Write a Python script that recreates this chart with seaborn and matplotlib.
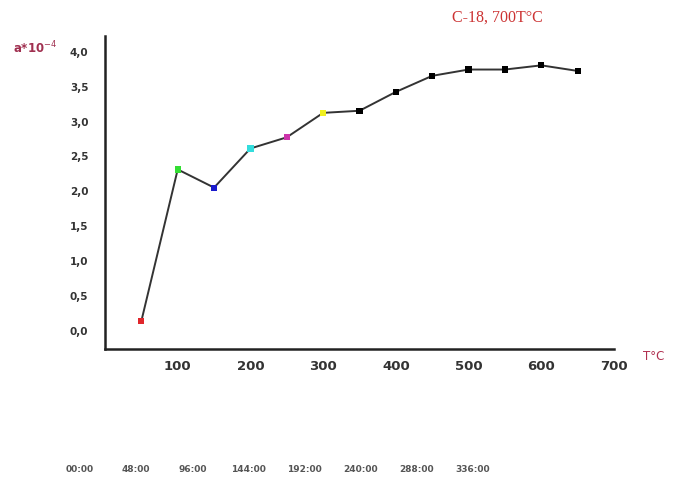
import matplotlib
matplotlib.use("Agg")
import matplotlib.pyplot as plt
import seaborn as sns
import pandas as pd
from matplotlib.ticker import MultipleLocator, FuncFormatter

# ---- data ----
temperature = [50, 100, 150, 200, 250, 300, 350, 400, 450, 500, 550, 600, 650]
a_values = [0.13, 2.30, 2.04, 2.60, 2.76, 3.11, 3.14, 3.41, 3.64, 3.73, 3.73, 3.79, 3.71]
point_colors = ["#e0262b", "#33dd33", "#1a1acc", "#33dddd", "#cc33aa", "#f0f020",
                "#000000", "#000000", "#000000", "#000000", "#000000", "#000000", "#000000"]
time_ticks = [0, 48, 96, 144, 192, 240, 288, 336]
time_labels = ["00:00", "48:00", "96:00", "144:00", "192:00", "240:00", "288:00", "336:00"]
x_major = [100, 200, 300, 400, 500, 600, 700]

sns.set_style("white")
plt.rcParams["font.family"] = ["DejaVu Sans"]

df = pd.DataFrame({"T": temperature, "a": a_values, "c": [str(i) for i in range(len(temperature))]})

fig = plt.figure(figsize=(6.73, 4.81), dpi=100)
W, H = 673, 481
ax = fig.add_axes([105 / W, 1 - 350 / H, (614 - 105) / W, (350 - 37) / H])

sns.lineplot(data=df, x="T", y="a", ax=ax, color="#333333", linewidth=1.4, zorder=2)
sns.scatterplot(data=df, x="T", y="a", hue="c", palette=point_colors, marker="s",
                s=20, edgecolor="none", linewidth=0, legend=False, ax=ax, zorder=3)

ax.set_xlim(0, 700)
ax.set_ylim(-0.27, 4.21)
ax.set_xlabel("")
ax.set_ylabel("")
for s in ["top", "right"]:
    ax.spines[s].set_visible(False)
for s in ["left", "bottom"]:
    ax.spines[s].set_linewidth(1.8)
    ax.spines[s].set_color("#222222")

ax.set_xticks(x_major)
ax.xaxis.set_minor_locator(MultipleLocator(50))
ax.yaxis.set_minor_locator(MultipleLocator(0.25))
ax.set_yticks([0, 0.5, 1.0, 1.5, 2.0, 2.5, 3.0, 3.5, 4.0])
ax.yaxis.set_major_formatter(FuncFormatter(lambda v, p: f"{v:.1f}".replace(".", ",")))
ax.tick_params(axis="x", which="major", direction="inout", length=7, width=1.3,
               labelsize=9.5, pad=4, colors="#222222")
ax.tick_params(axis="x", which="minor", direction="inout", length=3, width=1.3, colors="#222222")
ax.tick_params(axis="y", which="major", direction="out", length=5, width=1.3,
               labelsize=7.5, pad=7, colors="#222222")
ax.tick_params(axis="y", which="minor", direction="inout", length=3, width=1.3, colors="#222222")
for lab in ax.get_xticklabels() + ax.get_yticklabels():
    lab.set_fontweight("bold")
    lab.set_color("#333333")

fig.text(497 / W, 1 - 18 / H, "C-18, 700T°C", family="Liberation Serif", fontsize=11.5,
         color="#cc3333", ha="center", va="center")
fig.text(13 / W, 1 - 48 / H, r"a*10$^{-4}$", fontsize=8.5, color="#a03050",
         ha="left", va="center", fontweight="bold")
fig.text(643 / W, 1 - 356 / H, "T°C", fontsize=8.5, color="#b03050",
         ha="left", va="center")

# secondary time axis (labels only)
ax2 = fig.add_axes([80 / W, 1 - 462 / H, (473 - 80) / W, 0.001])
ax2.set_xlim(0, 336)
ax2.set_xticks(time_ticks)
ax2.set_xticklabels(time_labels)
ax2.set_yticks([])
for s in ax2.spines.values():
    s.set_visible(False)
ax2.patch.set_alpha(0)
ax2.tick_params(axis="x", length=0, labelsize=6.5, labelcolor="#555555", pad=2)
for lab in ax2.get_xticklabels():
    lab.set_fontweight("bold")

fig.savefig("out.png", dpi=100)
